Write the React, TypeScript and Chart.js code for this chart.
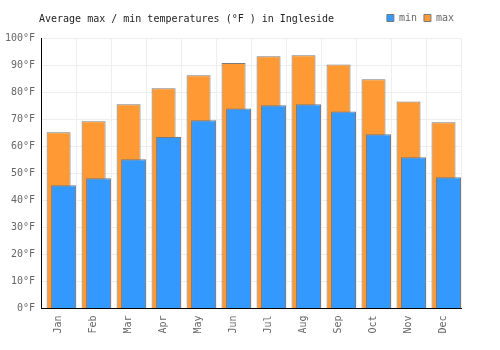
import React, { useEffect, useRef } from 'react';
import { Chart, registerables } from 'chart.js';

Chart.register(...registerables);

const TITLE = 'Average max / min temperatures (°F ) in Ingleside';
const months = ['Jan', 'Feb', 'Mar', 'Apr', 'May', 'Jun', 'Jul', 'Aug', 'Sep', 'Oct', 'Nov', 'Dec'];
const maxTemps = [65.3, 69.3, 75.6, 81.6, 86.4, 90.9, 93.4, 93.8, 90.4, 84.9, 76.7, 69.0];
const minTemps = [45.6, 48.2, 55.3, 63.5, 69.7, 74.1, 75.3, 75.6, 73.0, 64.5, 56.0, 48.6];
const Y_MIN = 0;
const Y_MAX = 100;
const Y_STEP = 10;
const UNIT = '°F';

const FONT = '"DejaVu Sans Mono", monospace';

const titlePlugin = {
  id: 'sideTitle',
  afterDraw(chart: any) {
    const ctx = chart.ctx;
    ctx.save();
    ctx.font = '10px ' + FONT;
    ctx.fillStyle = '#222';
    ctx.textBaseline = 'middle';
    ctx.textAlign = 'left';
    ctx.fillText(TITLE, 39, 19);
    ctx.restore();
  },
};

const legendSpacer = {
  id: 'legendSpacer',
  beforeInit(chart: any) {
    const legend = chart.legend;
    if (!legend) return;
    const origFit = legend.fit;
    legend.fit = function () {
      origFit.call(this);
      this.height += 5.5;
    };
  },
};

export default function App() {
  const ref = useRef<HTMLCanvasElement | null>(null);
  useEffect(() => {
    if (!ref.current) return;
    const chart = new Chart(ref.current, {
      type: 'bar',
      data: {
        labels: months,
        datasets: [
          {
            label: 'min',
            data: minTemps,
            backgroundColor: '#3399FF',
            borderColor: '#7a7a7a',
            borderWidth: 1,
            order: 1,
            grouped: true,
            categoryPercentage: 20 / 35,
            barPercentage: 2.5,
          } as any,
          {
            label: 'max',
            data: maxTemps,
            backgroundColor: '#FF9933',
            borderColor: '#7a7a7a',
            borderWidth: 1,
            order: 2,
            grouped: false,
            categoryPercentage: 1,
            barPercentage: 24 / 35,
          } as any,
          {
            label: '',
            data: months.map(() => null),
            order: 0,
            grouped: true,
          } as any,
        ],
      },
      options: {
        responsive: false,
        animation: false,
        layout: { padding: { left: -1, right: 39, top: 6, bottom: 9.5 } },
        plugins: {
          title: { display: false },
          tooltip: { enabled: false },
          legend: {
            position: 'top',
            align: 'end',
            labels: {
              boxWidth: 7,
              boxHeight: 7,
              padding: 7,
              color: '#666',
              font: { family: FONT, size: 10 },
              filter: (item: any) => item.text !== '',
            },
          },
        },
        scales: {
          x: {
            grid: { color: '#eeeeee', drawTicks: false, offset: true },
            border: { color: '#000', width: 1 },
            ticks: {
              color: '#666',
              font: { family: FONT, size: 10 },
              maxRotation: 90,
              minRotation: 90,
              padding: 7,
            },
          },
          y: {
            min: Y_MIN,
            max: Y_MAX,
            grid: { color: '#eeeeee', drawTicks: false },
            border: { color: '#000', width: 1 },
            ticks: {
              stepSize: Y_STEP,
              color: '#666',
              font: { family: FONT, size: 10 },
              padding: 6,
              callback: (v: any) => v + UNIT,
            },
          },
        },
      },
      plugins: [legendSpacer, titlePlugin],
    });
    return () => chart.destroy();
  }, []);
  return (
    <div style={{ position: 'absolute', left: 0, top: 0, width: 500, height: 350 }}>
      <canvas ref={ref} width={500} height={350} />
    </div>
  );
}
